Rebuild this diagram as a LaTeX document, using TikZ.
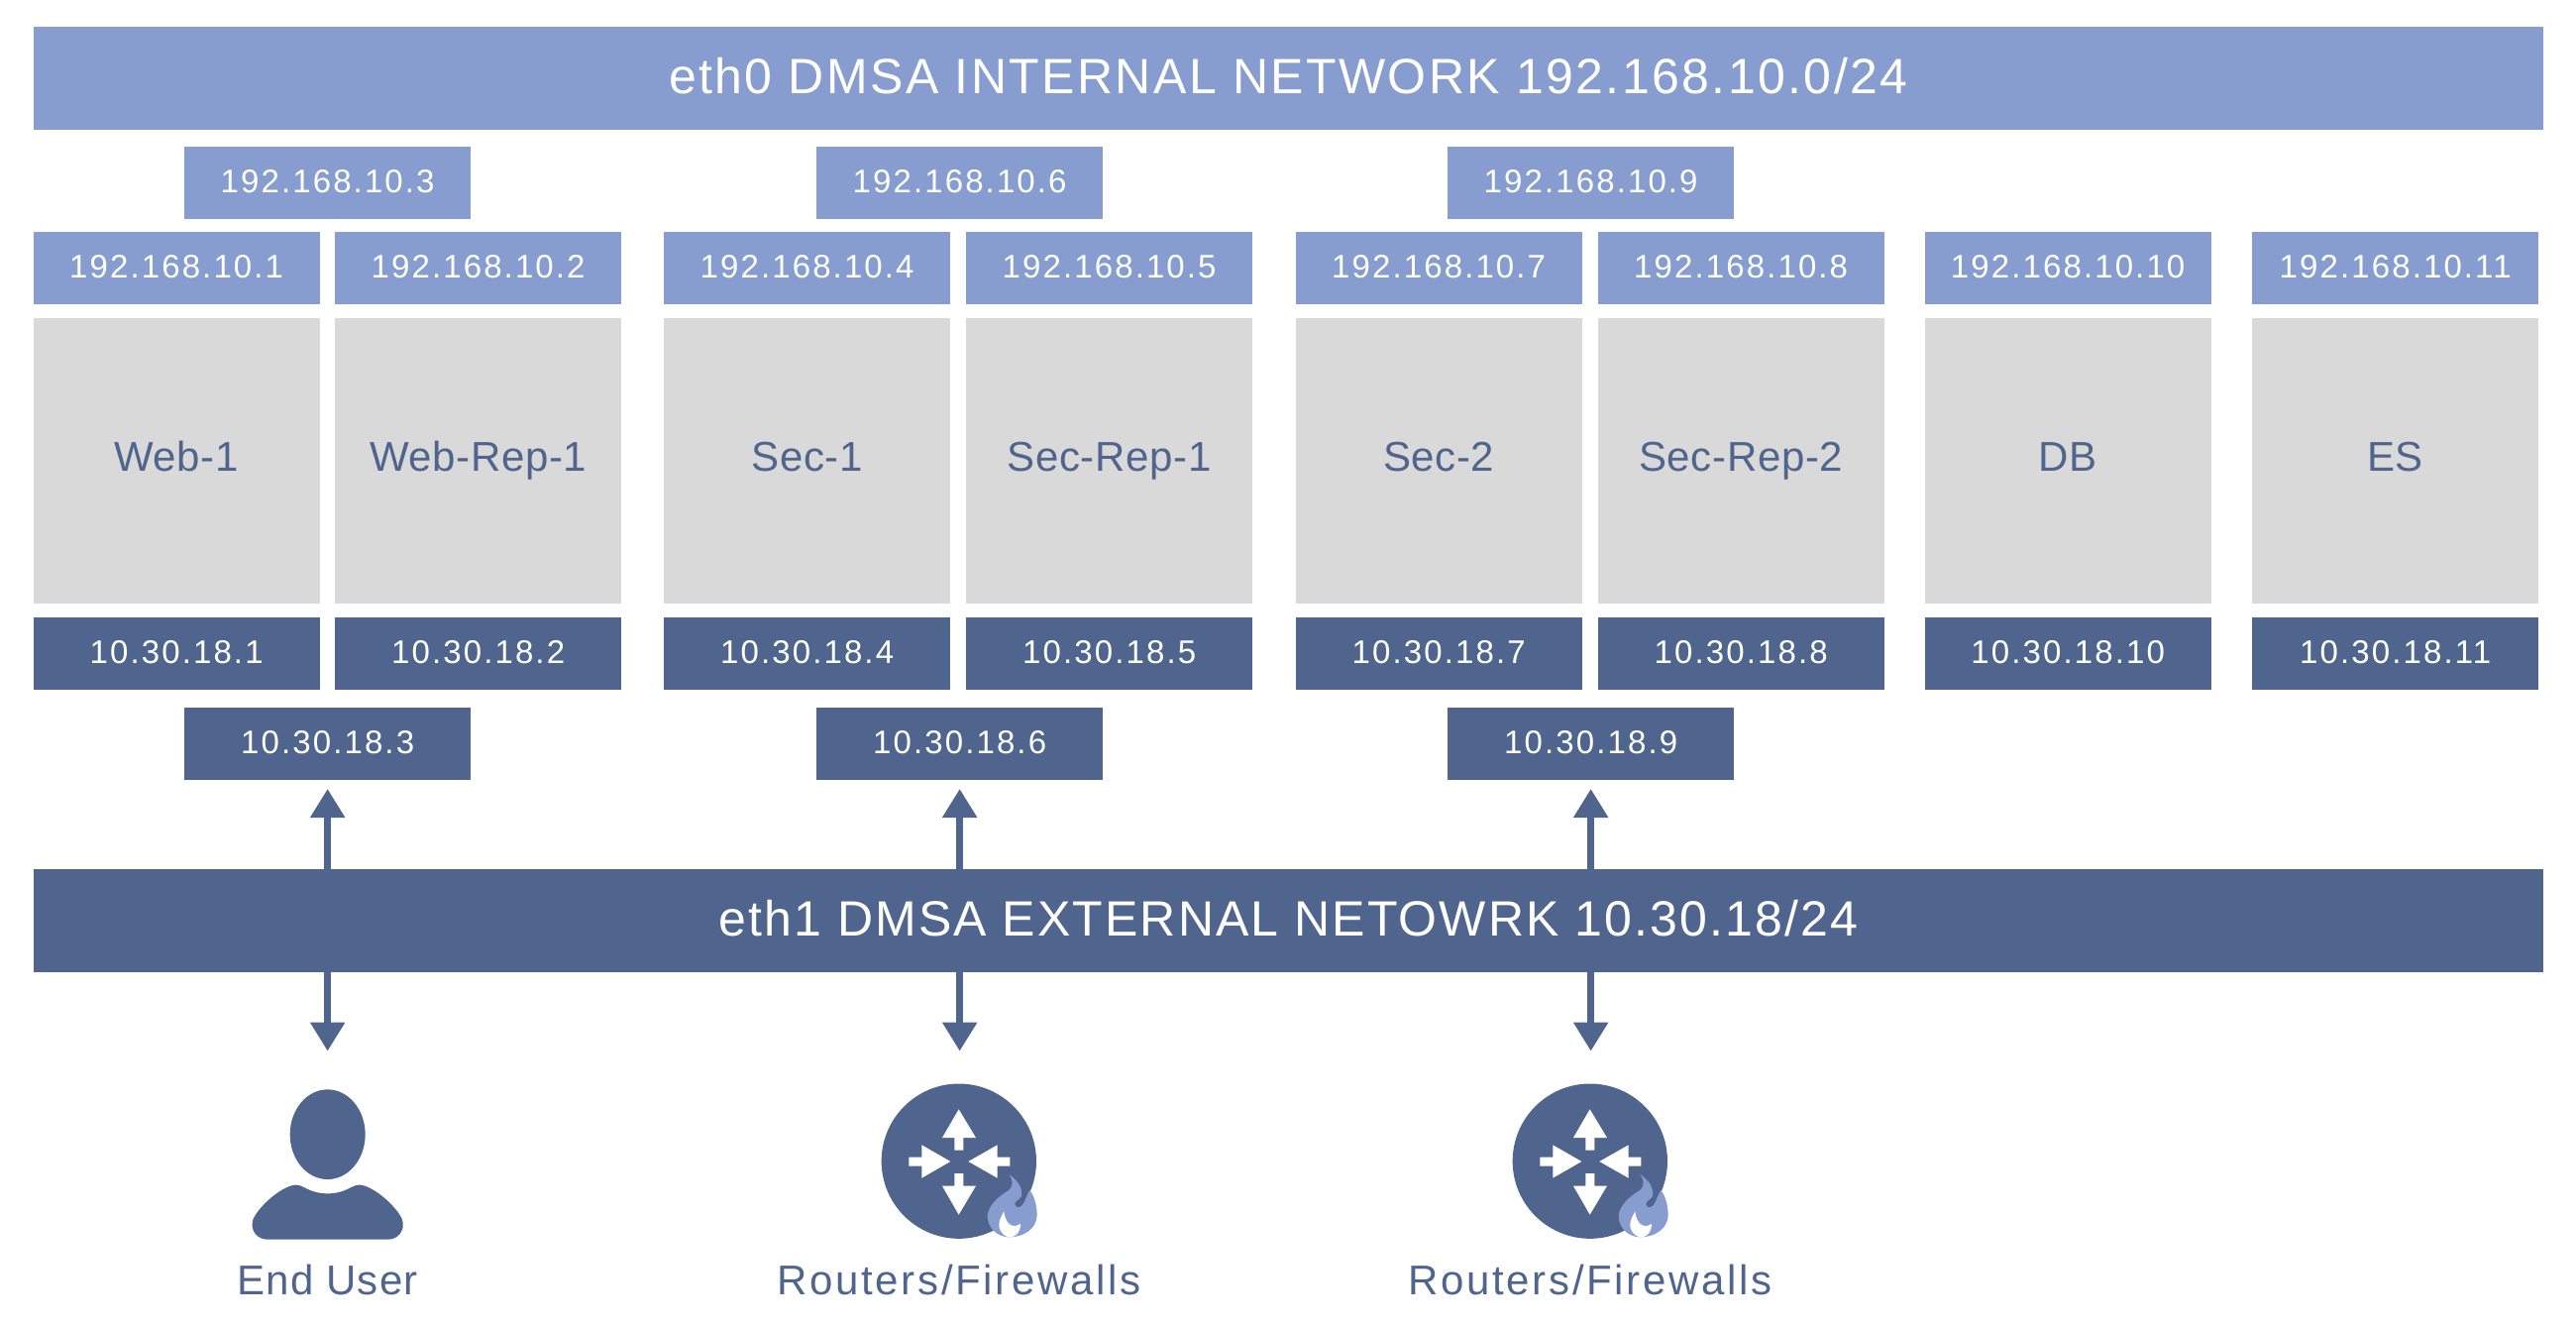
\documentclass[tikz,border=0pt]{standalone}
\usepackage{fontspec}
\usetikzlibrary{arrows.meta}
\newfontfamily\ipfont[LetterSpace=6.4]{Liberation Sans}
\newfontfamily\hostfont[LetterSpace=1.5]{Liberation Sans}
\newfontfamily\intfont[LetterSpace=4.8]{Liberation Sans}
\newfontfamily\extfont[LetterSpace=4.2]{Liberation Sans}
\newfontfamily\userfont[LetterSpace=3]{Liberation Sans}
\newfontfamily\fwfont[LetterSpace=6.4]{Liberation Sans}
\definecolor{lightblue}{RGB}{135,157,207}
\definecolor{darkblue}{RGB}{80,101,141}
\definecolor{graybox}{RGB}{217,217,217}
\tikzset{
  boxbase/.style={anchor=north west,inner sep=0pt,outer sep=0pt,align=center,minimum width=289.3pt},
  intip/.style={boxbase,fill=lightblue,text=white,minimum height=72.7pt,text height=23.5pt,text depth=4pt,font=\ipfont\fontsize{33}{40}\selectfont},
  extip/.style={boxbase,fill=darkblue,text=white,minimum height=72.7pt,text height=23.5pt,text depth=4pt,font=\ipfont\fontsize{33}{40}\selectfont},
  hostbox/.style={boxbase,fill=graybox,text=darkblue,minimum height=288pt,text height=30pt,text depth=8pt,font=\hostfont\fontsize{42}{50}\selectfont},
  intbar/.style={boxbase,fill=lightblue,text=white,minimum width=2533.5pt,minimum height=104.3pt,text height=36pt,text depth=4pt,font=\intfont\fontsize{50}{60}\selectfont},
  extbar/.style={boxbase,fill=darkblue,text=white,minimum width=2533.5pt,minimum height=104.3pt,text height=36pt,text depth=4pt,font=\extfont\fontsize{50}{60}\selectfont},
  iconlabel/.style={anchor=base,inner sep=0pt,text=darkblue},
  biarrow/.style={draw=darkblue,line width=7pt,-{Triangle[length=29pt,width=33.5pt]}},
}
\newcommand{\routericon}[1]{%
  \begin{scope}[shift={(#1,1060)},x=0.33333pt,y=-0.33333pt]
    \fill[darkblue] (623.5,335) circle (234.5);
    \fill[white] (623,178)--(675,264)--(637,264)--(637,302)--(610,302)--(610,264)--(573,264)--cycle;
    \fill[white] (623,497)--(675,410)--(637,410)--(637,372)--(610,372)--(610,410)--(573,410)--cycle;
    \fill[white] (598,336)--(511,286)--(511,323)--(472,323)--(472,350)--(511,350)--(511,386)--cycle;
    \fill[white] (652,336)--(740,286)--(740,323)--(778,323)--(778,350)--(740,350)--(740,386)--cycle;
    \fill[lightblue] (775,375)
      .. controls (805,395) and (818,420) .. (812,442)
      .. controls (806,452) and (793,455) .. (793,465)
      .. controls (794,478) and (812,478) .. (820,462)
      .. controls (826,450) and (830,435) .. (838,423)
      .. controls (852,440) and (860,470) .. (860,500)
      .. controls (858,540) and (820,565) .. (775,565)
      .. controls (735,563) and (710,535) .. (710,500)
      .. controls (712,470) and (745,440) .. (772,425)
      .. controls (790,412) and (788,390) .. (775,375) -- cycle;
    \fill[white] (760,487)
      .. controls (750,505) and (745,515) .. (745,530)
      .. controls (746,552) and (765,565) .. (778,565)
      .. controls (798,565) and (810,548) .. (810,525)
      .. controls (795,537) and (765,535) .. (760,487) -- cycle;
  \end{scope}}
\begin{document}
\begin{tikzpicture}[x=1pt,y=-1pt]
\useasboundingbox (0,0) rectangle (2600,1338);
\node[intbar] (eth0) at (33.5,26.7) {eth0 DMSA INTERNAL NETWORK 192.168.10.0/24};
\node[extbar] (eth1) at (33.5,876.7) {eth1 DMSA EXTERNAL NETOWRK 10.30.18/24};
% paired and single hosts
\foreach \xx/\nm/\lab/\ipa/\ipb in {33.5/web1/Web-1/192.168.10.1/10.30.18.1,338/webrep/Web-Rep-1/192.168.10.2/10.30.18.2,670/sec1/Sec-1/192.168.10.4/10.30.18.4,975/secrep1/Sec-Rep-1/192.168.10.5/10.30.18.5,1307.5/sec2/Sec-2/192.168.10.7/10.30.18.7,1612.5/secrep2/Sec-Rep-2/192.168.10.8/10.30.18.8,1942.5/db/DB/192.168.10.10/10.30.18.10,2273/es/ES/192.168.10.11/10.30.18.11}{
  \node[intip] (int\nm) at (\xx,234.3) {\ipa};
  \node[hostbox] (host\nm) at (\xx,320.7) {\lab};
  \node[extip] (ext\nm) at (\xx,623.3) {\ipb};
}
% virtual addresses
\node[intip] (vint1) at (186,148.3) {192.168.10.3};
\node[intip] (vint2) at (824,148.3) {192.168.10.6};
\node[intip] (vint3) at (1461,148.3) {192.168.10.9};
\node[extip] (vext1) at (186,714.3) {10.30.18.3};
\node[extip] (vext2) at (824,714.3) {10.30.18.6};
\node[extip] (vext3) at (1461,714.3) {10.30.18.9};
% arrows
\foreach \i in {1,2,3}{
  \coordinate (up\i) at ([yshift=-9pt]vext\i.south);
  \coordinate (dn\i) at ([yshift=-273.6pt]vext\i.south);
  \draw[biarrow] (up\i |- eth1.north) -- (up\i);
  \draw[biarrow] (dn\i |- eth1.south) -- (dn\i);
}
% end user icon
\begin{scope}[shift={(200,1060)},x=0.33333pt,y=-0.33333pt]
  \fill[darkblue] (392,254) ellipse (114 and 136);
  \fill[darkblue] (210,572) -- (575,572)
    .. controls (605,572) and (628,545) .. (618,512)
    .. controls (600,470) and (530,410) .. (490,407)
    .. controls (465,405) and (450,433) .. (392,433)
    .. controls (334,433) and (319,405) .. (294,407)
    .. controls (254,410) and (184,470) .. (166,512)
    .. controls (156,545) and (179,572) .. (210,572) -- cycle;
\end{scope}
\routericon{760}
\routericon{1397}
\coordinate (lab1) at (330.5,1306.7);
\coordinate (lab2) at (968,1306.7);
\coordinate (lab3) at (1605,1306.7);
\node[iconlabel,font=\userfont\fontsize{42}{50}\selectfont] (userlabel) at (lab1) {End User};
\node[iconlabel,font=\fwfont\fontsize{42}{50}\selectfont] (fwlabela) at (lab2) {Routers/Firewalls};
\node[iconlabel,font=\fwfont\fontsize{42}{50}\selectfont] (fwlabelb) at (lab3) {Routers/Firewalls};
\end{tikzpicture}
\end{document}
